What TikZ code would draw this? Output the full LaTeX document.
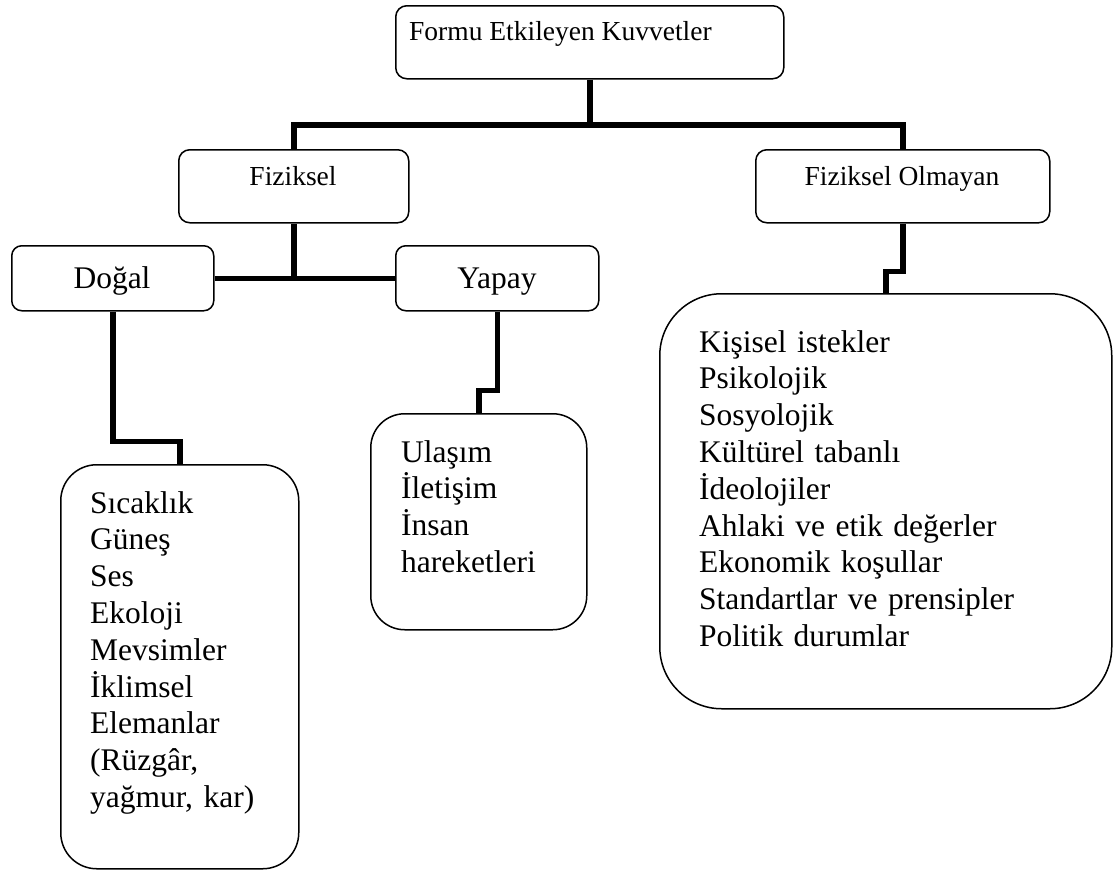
\documentclass[tikz,border=0pt]{standalone}
\usepackage{fontspec}
\setmainfont{Liberation Serif}
\begin{document}
\begin{tikzpicture}[x=1pt,y=-1pt,
  box/.style={draw, line width=1.5pt, rounded corners=11pt, inner sep=0pt, anchor=north west},
  link/.style={line width=5.5pt, line join=miter},
  smalltxt/.style={font=\fontsize{27.5}{33}\selectfont, inner sep=0pt},
  bigtxt/.style={font=\fontsize{31.5}{36.8}\selectfont, inner sep=0pt},
  listtxt/.style={font=\fontsize{31.5}{36.8}\selectfont, inner sep=0pt, align=left, text width=360pt, anchor=base west}]
\useasboundingbox (0,0) rectangle (1113,870);

% boxes
\node[box, minimum width=388pt, minimum height=73pt] (top) at (395,5) {};
\node[box, minimum width=230pt, minimum height=73pt] (fiz) at (178,149) {};
\node[box, minimum width=294pt, minimum height=73pt] (fo) at (755,149) {};
\node[box, minimum width=202pt, minimum height=65pt, rounded corners=10pt] (dogal) at (11,245) {};
\node[box, minimum width=203pt, minimum height=65pt, rounded corners=10pt] (yapay) at (395,245) {};
\node[box, minimum width=238pt, minimum height=404pt, rounded corners=36pt] (dlist) at (60,464) {};
\node[box, minimum width=216pt, minimum height=216pt, rounded corners=34pt] (ylist) at (370,413) {};
\node[box, minimum width=452pt, minimum height=415pt, rounded corners=62pt] (folist) at (659,293) {};

% texts
\node[smalltxt, anchor=base west] (toptxt) at (409,40) {Formu Etkileyen Kuvvetler};
\node[smalltxt, anchor=base] (fiztxt) at (293,185) {Fiziksel};
\node[smalltxt, anchor=base] (fotxt) at (902,185) {Fiziksel Olmayan};
\node[bigtxt, anchor=base] (dogaltxt) at (112,288) {Doğal};
\node[bigtxt, anchor=base] (yapaytxt) at (497,288) {Yapay};
\node[listtxt] (dlisttxt) at (90,513) {Sıcaklık\\Güneş\\Ses\\Ekoloji\\Mevsimler\\İklimsel\\Elemanlar\\(Rüzgâr,\\yağmur, kar)};
\node[listtxt] (ylisttxt) at (401,462) {Ulaşım\\İletişim\\İnsan\\hareketleri};
\node[listtxt] (folisttxt) at (699,352) {Kişisel istekler\\Psikolojik\\Sosyolojik\\Kültürel tabanlı\\İdeolojiler\\Ahlaki ve etik değerler\\Ekonomik koşullar\\Standartlar ve prensipler\\Politik durumlar};

% connectors
\coordinate (j1) at (589,125);
\draw[link] (top.south) -- (top.south |- j1);
\draw[link] (fiz.north) -- (fiz.north |- j1) -- (fo.north |- j1) -- (fo.north);
\draw[link] (fiz.south) -- (fiz.south |- dogal.east);
\draw[link] (dogal.east) -- (yapay.west);
\draw[link] (dogal.south) -- ++(0,130) -| (dlist.north);
\draw[link] (yapay.south) -- ++(0,79) -| (ylist.north);
\draw[link] (fo.south) -- ++(0,48) -| (folist.north);
\end{tikzpicture}
\end{document}
